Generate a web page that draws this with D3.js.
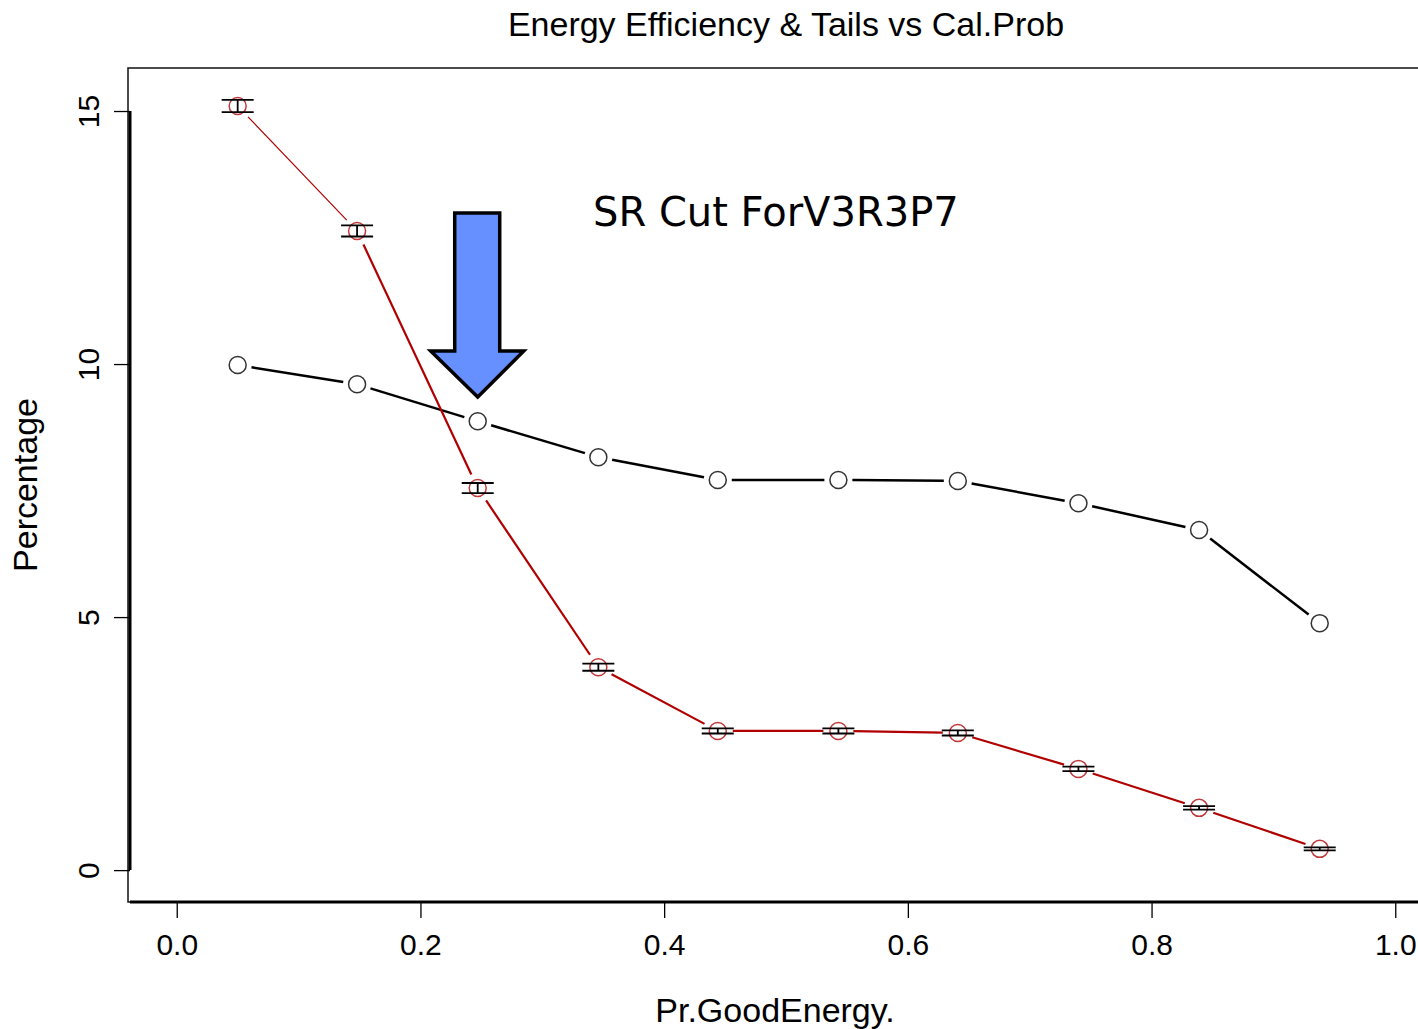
<!DOCTYPE html>
<html>
<head>
<meta charset="utf-8">
<script src="https://cdn.jsdelivr.net/npm/d3@7"></script>
<style>
body { margin: 0; background: #fff; }
svg { display: block; font-family: "Liberation Sans", Arial, sans-serif; }
</style>
</head>
<body>
<svg id="chart"></svg>
<script>
// values
var probs = [0.050, 0.148, 0.247, 0.346, 0.444, 0.543, 0.641, 0.740, 0.839, 0.938];
var efficiency = [9.98, 9.60, 8.87, 8.16, 7.71, 7.71, 7.69, 7.25, 6.72, 4.88];
var tails = [15.10, 12.63, 7.55, 4.01, 2.75, 2.75, 2.71, 2.00, 1.23, 0.42];
var tailsErr = [0.12, 0.11, 0.10, 0.07, 0.05, 0.05, 0.05, 0.045, 0.035, 0.03];
var xTicks = [0.0, 0.2, 0.4, 0.6, 0.8, 1.0];
var yTicks = [0, 5, 10, 15];

var width = 1418, height = 1029;
var svg = d3.select("#chart").attr("width", width).attr("height", height);

var pLeft = 128, pRight = 1444, pTop = 68, pBottom = 902;
var x = d3.scaleLinear().domain([-0.04, 1.04]).range([pLeft, pRight]);
var y = d3.scaleLinear().domain([-0.63, 15.85]).range([pBottom, pTop]);

// box
svg.append("rect")
    .attr("x", pLeft).attr("y", pTop)
    .attr("width", pRight - pLeft).attr("height", pBottom - pTop)
    .attr("fill", "none").attr("stroke", "#111").attr("stroke-width", 1.5);

// x axis
var xAxis = svg.append("g")
    .attr("transform", "translate(0," + pBottom + ")")
    .call(d3.axisBottom(x).tickValues(xTicks).tickFormat(d3.format(".1f")).tickSize(16).tickPadding(16));
xAxis.select(".domain").attr("d", "M" + (pLeft + 2) + ",0H" + pRight).attr("stroke-width", 3).attr("stroke", "#000");
xAxis.selectAll(".tick line").attr("stroke-width", 1.3);
xAxis.selectAll(".tick text").attr("font-size", 30).attr("fill", "#000")
    .attr("font-family", "Liberation Sans, Arial, sans-serif");

// y axis
var yAxis = svg.append("g")
    .attr("transform", "translate(" + (pLeft + 2) + ",0)")
    .call(d3.axisLeft(y).tickValues(yTicks).tickSize(16).tickPadding(0));
yAxis.select(".domain").attr("d", "M0," + y(15) + "V" + y(0)).attr("stroke-width", 3).attr("stroke", "#000");
yAxis.selectAll(".tick line").attr("stroke-width", 1.3);
yAxis.selectAll(".tick text")
    .attr("font-size", 30).attr("fill", "#000")
    .attr("font-family", "Liberation Sans, Arial, sans-serif")
    .attr("text-anchor", "middle")
    .attr("transform", "translate(-42,0) rotate(-90)")
    .attr("x", 0).attr("dy", "0.35em");

// titles
svg.append("text").attr("x", 786).attr("y", 36).attr("text-anchor", "middle")
    .attr("font-size", 34).attr("fill", "#000").text("Energy Efficiency & Tails vs Cal.Prob");
svg.append("text").attr("x", 775).attr("y", 1022).attr("text-anchor", "middle")
    .attr("font-size", 34).attr("fill", "#000").text("Pr.GoodEnergy.");
svg.append("text").attr("transform", "translate(37,485) rotate(-90)").attr("text-anchor", "middle")
    .attr("font-size", 34).attr("fill", "#000").text("Percentage");

// line drawn with gaps around the points (R type="b")
function gappedLine(g, xs, ys, color, widths, gap) {
    for (var i = 0; i < xs.length - 1; i++) {
        var x1 = x(xs[i]), y1 = y(ys[i]), x2 = x(xs[i + 1]), y2 = y(ys[i + 1]);
        var dx = x2 - x1, dy = y2 - y1, len = Math.sqrt(dx * dx + dy * dy);
        if (len < 2 * gap) continue;
        var ux = dx / len, uy = dy / len;
        g.append("line")
            .attr("x1", x1 + ux * gap).attr("y1", y1 + uy * gap)
            .attr("x2", x2 - ux * gap).attr("y2", y2 - uy * gap)
            .attr("stroke", color).attr("stroke-width", widths[i]);
    }
}

var eff = svg.append("g");
gappedLine(eff, probs, efficiency, "#000", probs.map(function () { return 2.5; }), 14);
eff.selectAll("circle").data(probs).enter().append("circle")
    .attr("cx", function (d) { return x(d); })
    .attr("cy", function (d, i) { return y(efficiency[i]); })
    .attr("r", 8.5)
    .attr("fill", "#fff").attr("stroke", "#333").attr("stroke-width", 1.5);

var tl = svg.append("g");
gappedLine(tl, probs, tails, "#b00000", probs.map(function (d, i) { return i == 0 ? 1.2 : 2.2; }), 15);
tl.selectAll("circle").data(probs).enter().append("circle")
    .attr("cx", function (d) { return x(d); })
    .attr("cy", function (d, i) { return y(tails[i]); })
    .attr("r", 8.5)
    .attr("fill", "none").attr("stroke", "#c0393b").attr("stroke-width", 1.5);

// error bars
var eb = tl.selectAll("g.err").data(probs).enter().append("g").attr("class", "err");
eb.append("line")
    .attr("x1", function (d) { return x(d); }).attr("x2", function (d) { return x(d); })
    .attr("y1", function (d, i) { return y(tails[i] + tailsErr[i]); })
    .attr("y2", function (d, i) { return y(tails[i] - tailsErr[i]); })
    .attr("stroke", "#000").attr("stroke-width", 1.8);
[1, -1].forEach(function (s) {
    eb.append("line")
        .attr("x1", function (d) { return x(d) - 16; }).attr("x2", function (d) { return x(d) + 16; })
        .attr("y1", function (d, i) { return y(tails[i] + s * tailsErr[i]); })
        .attr("y2", function (d, i) { return y(tails[i] + s * tailsErr[i]); })
        .attr("stroke", "#000").attr("stroke-width", 1.8);
});

// annotation arrow
var ax = x(0.247);
var arrow = [[ax - 23, 213], [ax + 22, 213], [ax + 22, 351], [ax + 46, 351],
             [ax, 397], [ax - 47, 351], [ax - 23, 351]];
svg.append("path")
    .attr("d", d3.line()(arrow) + "Z")
    .attr("fill", "#6690ff").attr("stroke", "#000").attr("stroke-width", 3.5)
    .attr("stroke-linejoin", "miter");

svg.append("text").attr("x", 593).attr("y", 226)
    .attr("font-family", "'Comic Sans MS', 'DejaVu Sans', sans-serif")
    .attr("font-size", 40).attr("fill", "#000").text("SR Cut ForV3R3P7");
</script>
</body>
</html>
